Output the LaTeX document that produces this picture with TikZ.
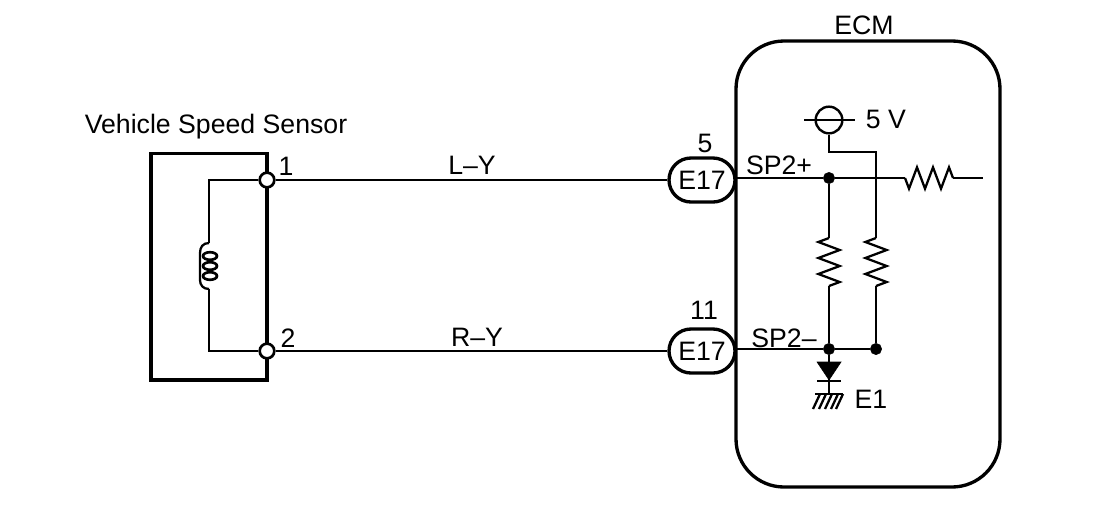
\documentclass[tikz,border=0pt]{standalone}
\usepackage{fontspec}
\setmainfont{Liberation Sans}
\usetikzlibrary{
        decorations.pathmorphing,
        positioning,
        shapes.misc
    }
\tikzset{
    wire/.style={line width=1.7pt},
    thickbox/.style={draw,line width=2.5pt,inner sep=0pt},
    txt/.style={font=\fontsize{20}{22}\selectfont,inner sep=0pt},
    plug/.style={draw,rounded rectangle,line width=2.5pt,minimum width=49.5pt,minimum height=33pt,inner sep=0pt,font=\fontsize{20}{22}\selectfont},
    pin/.style={draw,circle,fill=white,line width=2pt,minimum size=11pt,inner sep=0pt},
    junction/.style={draw,circle,fill=black,minimum size=8.5pt,inner sep=0pt},
    resistor/.style={wire,decorate,decoration={zigzag,mirror,amplitude=8pt,segment length=12pt}}
}

\begin{document}
\begin{tikzpicture}[x=0.75pt,y=-0.75pt]
    \useasboundingbox (0,0) rectangle (1120,508);

    % boxes
    \node[thickbox,minimum width=87pt,minimum height=170pt] (sensor) at (209,266.5) {};
    \node[thickbox,rounded corners=36pt,minimum width=198pt,minimum height=334.5pt] (ecm) at (868,264) {};
    \node[txt] (sensorlabel) at (216,127) {Vehicle Speed Sensor};
    \node[txt] (ecmlabel) at (864,25) {ECM};

    % sensor pins and coil
    \node[pin] (pin1) at (267,180) {};
    \node[pin] (pin2) at (267,351) {};
    \node[txt] (pin1label) at (286,166) {1};
    \node[txt] (pin2label) at (288,338) {2};
    \coordinate (cornertop) at (209,180);
    \coordinate (cornerbot) at (209,351);
    \coordinate (coiltop) at (209,243);
    \coordinate (coilbot) at (209,289);
    \draw[wire] (pin1) -- (cornertop) -- (coiltop);
    \draw[wire] (pin2) -- (cornerbot) -- (coilbot);
    \draw[wire] (pin1) -- (pin2);
    \draw[wire] (coiltop) .. controls (203,243) and (200,247) .. (200,253)
        -- (200,280) .. controls (200,285) and (203,289) .. (coilbot);
    \foreach \y in {256,266,276}
        \draw[line width=2pt] (210,\y) ellipse (7 and 3.8);

    % connectors
    \node[plug] (plug5) at (702,180) {E17};
    \node[plug] (plug11) at (702,351) {E17};
    \node[txt] (num5) at (705,143) {5};
    \node[txt] (num11) at (704,310) {11};
    \node[txt] (wiretop) at (472,165) {L--Y};
    \node[txt] (wirebot) at (477,337) {R--Y};
    \draw[wire] (pin1) -- (plug5);
    \draw[wire] (pin2) -- (plug11);

    % inside ECM
    \node[txt] (sptop) at (779,165) {SP2+};
    \node[txt] (spbot) at (784,338) {SP2--};
    \node[junction] (jtop) at (829,178) {};
    \node[junction] (jbot) at (829,349) {};
    \node[junction] (jright) at (876,349) {};
    \node[draw,circle,line width=1.8pt,minimum size=20pt,inner sep=0pt] (supply) at (829,120) {};
    \node[txt] (supplylabel) at (886,119) {5 V};
    \coordinate (supplyl) at (804,120);
    \coordinate (supplyr) at (855,120);
    \coordinate (bendl) at (829,152);
    \coordinate (bendr) at (876,152);
    \coordinate (rtopa) at (905,178);
    \coordinate (rtopb) at (953,178);
    \coordinate (wireend) at (983,178);
    \coordinate (rla) at (829,238);
    \coordinate (rlb) at (829,286);
    \coordinate (rra) at (876,238);
    \coordinate (rrb) at (876,286);
    \coordinate (busl) at (736,178);
    \coordinate (busb) at (736,349);
    \draw[wire] (supplyl) -- (supplyr);
    \draw[wire] (supply) -- (bendl) -- (bendr) -- (rra);
    \draw[wire] (busl) -- (jtop) -- (rtopa);
    \draw[resistor] (rtopa) -- (rtopb);
    \draw[wire] (rtopb) -- (wireend);
    \draw[wire] (jtop) -- (rla);
    \draw[resistor] (rla) -- (rlb);
    \draw[wire] (rlb) -- (jbot);
    \draw[resistor] (rra) -- (rrb);
    \draw[wire] (rrb) -- (jright);
    \draw[line width=2.2pt] (busb) -- (jbot) -- (jright);

    % diode and ground
    \coordinate (gnd) at (829,394);
    \node[txt] (e1) at (871,399) {E1};
    \draw[wire] (jbot) -- (gnd);
    \draw[fill=black] (817,362) -- (841,362) -- (829,380) -- cycle;
    \draw[line width=2pt] (817,381) -- (841,381);
    \draw[line width=1.7pt] (815,394) -- (843,394);
    \foreach \x in {820,826,832,838,843}
        \draw[line width=1.7pt] (\x,394) -- (\x-7,409);
\end{tikzpicture}
\end{document}
